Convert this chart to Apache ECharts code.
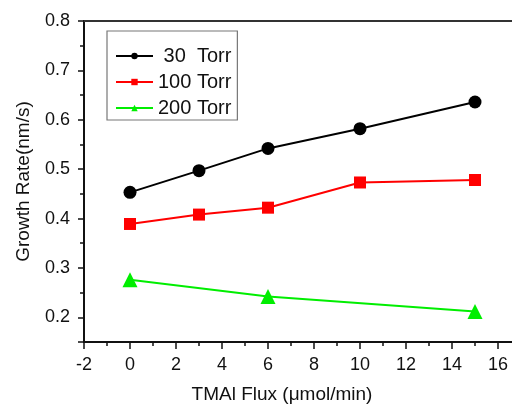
<!DOCTYPE html>
<html><head><meta charset="utf-8">
<script src="https://cdn.jsdelivr.net/npm/echarts@6/dist/echarts.min.js"></script>
<style>html,body{margin:0;padding:0;background:#fff}#c{width:512px;height:405px}</style>
</head><body><div id="c"></div>
<script>
const fluxA = [0, 3, 6, 10, 15];
const rate30 = [0.453, 0.497, 0.542, 0.582, 0.636];
const rate100 = [0.389, 0.408, 0.422, 0.473, 0.478];
const fluxB = [0, 6, 15];
const rate200 = [0.276, 0.242, 0.212];
const names = [' 30  Torr', '100 Torr', '200 Torr'];

const FONT = 'Liberation Sans';
const INK = '#111';
const xMin = -2, xMax = 18, yMin = 0.15, yMax = 0.8;
const pair = (xs, ys) => xs.map((x, i) => [x, ys[i]]);

const chart = echarts.init(document.getElementById('c'), null, {renderer: 'canvas'});
chart.setOption({
  animation: false,
  backgroundColor: '#fff',
  grid: {left: 84, top: 21, right: -32, bottom: 63, containLabel: false, outerBoundsMode: 'none'},
  legend: {
    left: 107, top: 31, orient: 'vertical',
    data: names,
    borderColor: '#777', borderWidth: 1.2, borderRadius: 0,
    padding: [14, 6, 1, 8],
    itemWidth: 37, itemHeight: 8, itemGap: 4,
    textStyle: {fontFamily: FONT, fontSize: 20, color: INK, lineHeight: 22}
  },
  xAxis: [
    {type: 'value', min: xMin, max: xMax, interval: 2, position: 'bottom',
     name: 'TMAl Flux (\u03bcmol/min)', nameLocation: 'middle', nameGap: 43,
     nameTextStyle: {fontFamily: FONT, fontSize: 19, color: INK, padding: [0, 64, 0, 0]},
     axisLine: {show: true, lineStyle: {color: INK, width: 2}},
     axisTick: {show: true, inside: false, length: 7, lineStyle: {color: INK, width: 1.5}},
     minorTick: {show: true, splitNumber: 2, length: 4, lineStyle: {color: INK, width: 1.5}},
     axisLabel: {margin: 14, fontFamily: FONT, fontSize: 18, color: INK, showMaxLabel: false},
     splitLine: {show: false}, minorSplitLine: {show: false}},
    {type: 'value', min: 100, max: 120, position: 'top',
     axisLine: {show: true, onZero: false, lineStyle: {color: '#333', width: 2}},
     axisTick: {show: false}, axisLabel: {show: false}, splitLine: {show: false}}
  ],
  yAxis: [
    {type: 'value', min: yMin, max: yMax, splitNumber: 6, position: 'left',
     name: 'Growth Rate(nm/s)', nameLocation: 'middle', nameGap: 51,
     nameTextStyle: {fontFamily: FONT, fontSize: 19, color: INK},
     axisLine: {show: true, onZeroAxisIndex: 1, lineStyle: {color: INK, width: 2}},
     axisTick: {show: true, inside: false, length: 6, lineStyle: {color: INK, width: 1.5}},
     minorTick: {show: true, splitNumber: 2, length: 4, lineStyle: {color: INK, width: 1.5}},
     axisLabel: {margin: 14, fontFamily: FONT, fontSize: 18, color: INK, showMinLabel: false,
                 formatter: v => v.toFixed(1)},
     splitLine: {show: false}, minorSplitLine: {show: false}}
  ],
  series: [
    {name: names[0], type: 'line', data: pair(fluxA, rate30), symbol: 'circle', symbolSize: 13,
     itemStyle: {color: '#000'}, lineStyle: {color: '#000', width: 2}},
    {name: names[1], type: 'line', data: pair(fluxA, rate100), symbol: 'rect', symbolSize: 12,
     itemStyle: {color: '#ff0000'}, lineStyle: {color: '#ff0000', width: 2}},
    {name: names[2], type: 'line', data: pair(fluxB, rate200), symbol: 'triangle', symbolSize: 15,
     itemStyle: {color: '#00ee00'}, lineStyle: {color: '#00ee00', width: 2}}
  ]
});
</script></body></html>
